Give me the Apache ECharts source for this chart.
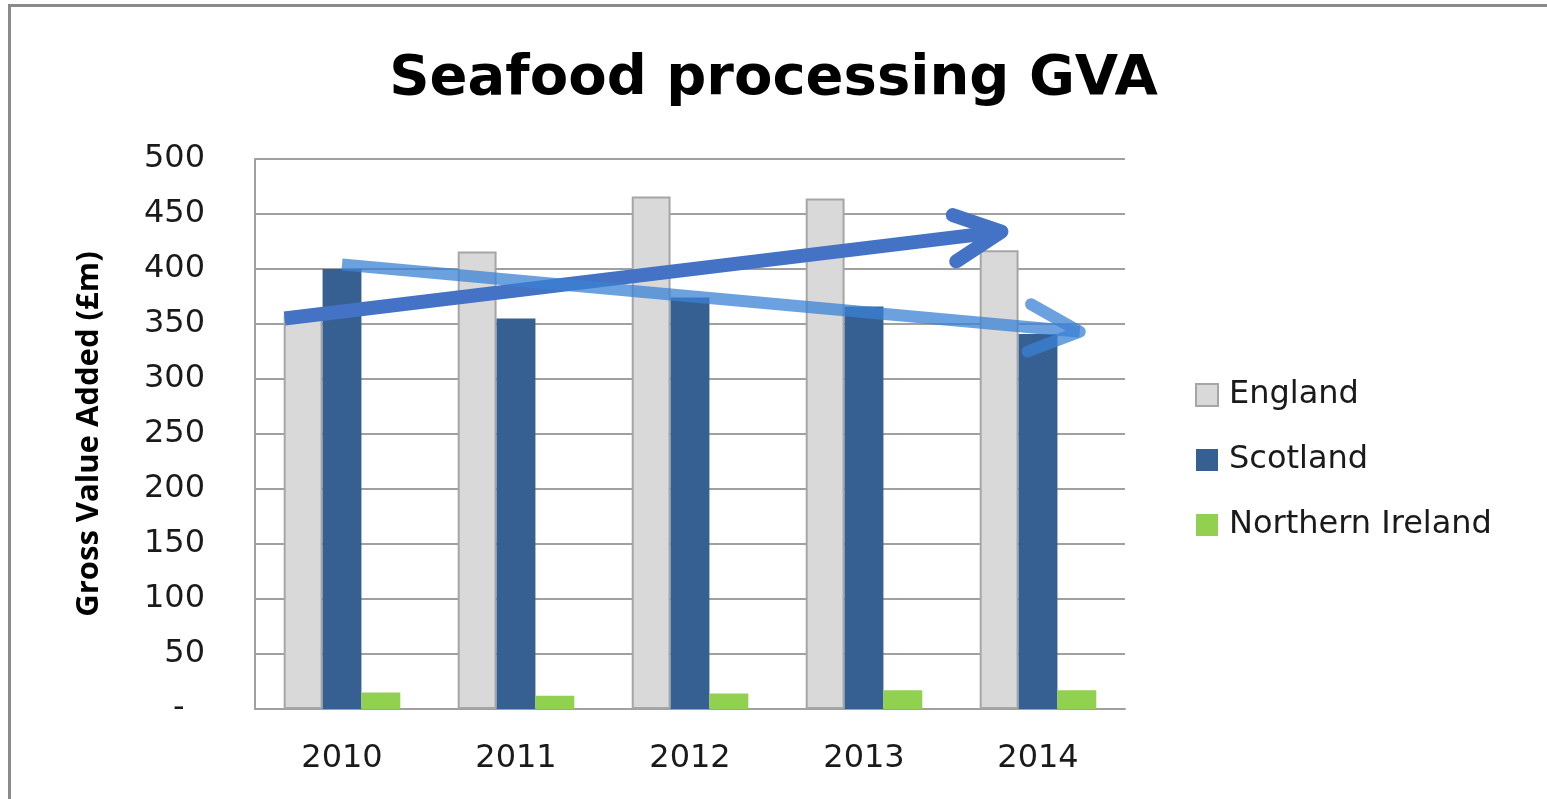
<!DOCTYPE html>
<html>
<head>
<meta charset="utf-8">
<script src="https://cdn.jsdelivr.net/npm/echarts@6/dist/echarts.min.js"></script>
<style>
  html, body { margin: 0; padding: 0; background: #fff; }
  #frame { position: absolute; left: 8px; top: 4px; width: 1539px; height: 795px;
           border-left: 3px solid #8a8a8a; border-top: 3px solid #8a8a8a; }
  #main { position: absolute; left: 0; top: 0; width: 1547px; height: 799px; }
</style>
</head>
<body>
<div id="frame"></div>
<div id="main"></div>
<script>
var years = ['2010', '2011', '2012', '2013', '2014'];
var england = [358, 416, 466, 464, 417];
var scotland = [400, 355, 374, 366, 341];
var northernIreland = [15, 12, 14, 17, 17];

// trend arrows drawn on a hidden value x axis (0..5, one unit per year)
var darkShaft = [[0.17, 355], [4.29, 434]];
var darkHead = [[4.01, 449], [4.29, 434], [4.03, 407]];
var lightShaft = [[0.5, 404], [4.74, 343]];
var lightHead = [[4.46, 368], [4.74, 343], [4.44, 325]];

var myChart = echarts.init(document.getElementById('main'));

var labelFont = 'DejaVu Sans';

var option = {
    animation: false,
    title: {
        text: 'Seafood processing GVA',
        left: 'center',
        top: 46,
        textStyle: {
            fontFamily: labelFont,
            fontWeight: 'bold',
            fontSize: 56,
            color: '#000'
        }
    },
    legend: {
        orient: 'vertical',
        left: 1195,
        top: 379,
        padding: 0,
        icon: 'rect',
        itemWidth: 22,
        itemHeight: 22,
        itemGap: 33,
        data: ['England', 'Scotland', 'Northern Ireland'],
        textStyle: {
            fontFamily: labelFont,
            fontSize: 32,
            color: '#1a1a1a',
            padding: [0, 0, 0, 6]
        }
    },
    grid: {
        left: 255,
        right: 422,
        top: 159,
        bottom: 90
    },
    xAxis: [
        {
            type: 'category',
            data: years,
            axisTick: { show: false },
            axisLine: { lineStyle: { color: '#a0a0a0', width: 2 } },
            axisLabel: {
                margin: 34,
                fontFamily: labelFont,
                fontSize: 32,
                color: '#1a1a1a'
            }
        },
        {
            type: 'value',
            min: 0,
            max: 5,
            show: false
        }
    ],
    yAxis: {
        type: 'value',
        min: 0,
        max: 500,
        interval: 50,
        name: 'Gross Value Added (£m)',
        nameLocation: 'middle',
        nameGap: 150,
        nameTextStyle: {
            fontFamily: 'Open Sans',
            fontWeight: 'bold',
            fontSize: 31,
            color: '#000'
        },
        axisLine: { show: true, lineStyle: { color: '#a0a0a0', width: 2 } },
        axisTick: { show: false },
        splitLine: { lineStyle: { color: '#a0a0a0', width: 2 } },
        axisLabel: {
            margin: 50,
            fontFamily: labelFont,
            fontSize: 32,
            color: '#1a1a1a',
            formatter: function (v) {
                return v === 0 ? '-  ' : String(v);
            }
        }
    },
    series: [
        {
            name: 'England',
            type: 'bar',
            barGap: '0%',
            barCategoryGap: '33%',
            data: england,
            itemStyle: { color: '#d9d9d9', borderColor: '#a6a6a6', borderWidth: 2 }
        },
        {
            name: 'Scotland',
            type: 'bar',
            data: scotland,
            itemStyle: { color: '#376092' }
        },
        {
            name: 'Northern Ireland',
            type: 'bar',
            data: northernIreland,
            itemStyle: { color: '#92d050' }
        },
        {
            name: 'trend1',
            type: 'line',
            xAxisIndex: 1,
            data: darkShaft,
            symbol: 'none',
            silent: true,
            z: 5,
            lineStyle: { color: '#4472c4', width: 14, cap: 'butt' }
        },
        {
            name: 'trend1head',
            type: 'line',
            xAxisIndex: 1,
            data: darkHead,
            symbol: 'none',
            silent: true,
            z: 5,
            lineStyle: { color: '#4472c4', width: 14, cap: 'round', join: 'round' }
        },
        {
            name: 'trend2',
            type: 'line',
            xAxisIndex: 1,
            data: lightShaft,
            symbol: 'none',
            silent: true,
            z: 6,
            lineStyle: { color: '#3b82d4', opacity: 0.75, width: 12, cap: 'butt' }
        },
        {
            name: 'trend2head',
            type: 'line',
            xAxisIndex: 1,
            data: lightHead,
            symbol: 'none',
            silent: true,
            z: 6,
            lineStyle: { color: '#3b82d4', opacity: 0.75, width: 12, cap: 'round', join: 'round' }
        }
    ]
};

myChart.setOption(option);
</script>
</body>
</html>
